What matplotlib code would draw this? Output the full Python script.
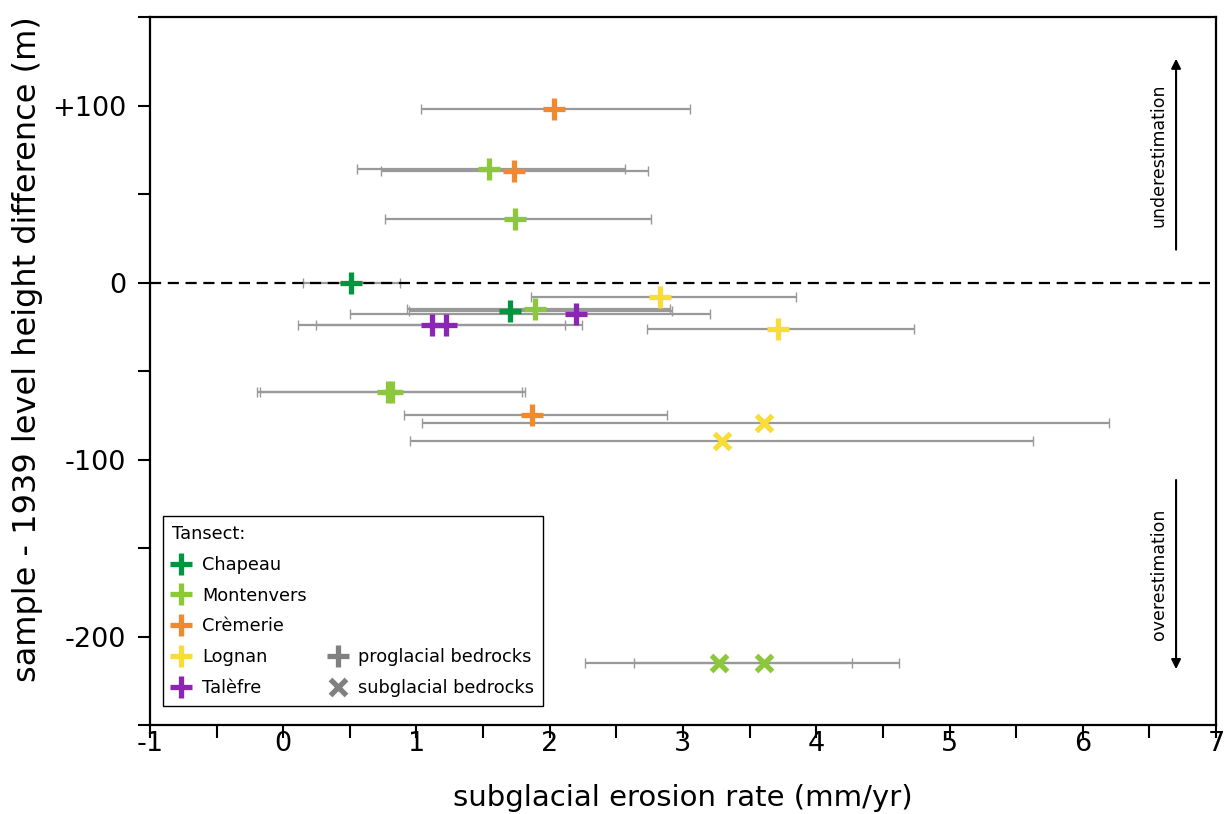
import numpy as np
import matplotlib.pyplot as plt
from matplotlib.lines import Line2D
from matplotlib.ticker import FixedLocator, MultipleLocator

plt.rcParams['font.family'] = ['DejaVu Sans']
plt.rcParams['axes.unicode_minus'] = False

# transect colours
colors = {
    "Chapeau": "#00963f",
    "Montenvers": "#8cc83a",
    "Crèmerie": "#f08a2c",
    "Lognan": "#f7dc3a",
    "Talèfre": "#8a25b5",
}

# one entry per sample
transect = ["Crèmerie", "Montenvers", "Crèmerie", "Montenvers", "Chapeau",
            "Lognan", "Chapeau", "Montenvers", "Talèfre", "Talèfre",
            "Talèfre", "Lognan", "Montenvers", "Montenvers", "Crèmerie",
            "Lognan", "Lognan", "Montenvers", "Montenvers"]
bedrock = ["pro"] * 15 + ["sub"] * 4
erosion = [2.03, 1.545, 1.73, 1.74, 0.51,
           2.83, 1.70, 1.89, 2.20, 1.115,
           1.22, 3.71, 0.79, 0.82, 1.87,
           3.61, 3.29, 3.27, 3.61]
height_diff = [98, 64, 63, 36, 0,
               -8, -16, -15, -18, -24,
               -24, -26.5, -62, -62, -75,
               -79.5, -89.5, -215, -215]
erosion_min = [1.035, 0.555, 0.735, 0.765, 0.145,
               1.86, 0.945, 0.93, 0.50, 0.11,
               0.245, 2.73, -0.20, -0.175, 0.91,
               1.04, 0.95, 2.265, 2.635]
erosion_max = [3.05, 2.565, 2.74, 2.76, 0.88,
               3.85, 2.915, 2.90, 3.20, 2.115,
               2.245, 4.73, 1.79, 1.815, 2.88,
               6.20, 5.63, 4.265, 4.62]

x = np.array(erosion)
y = np.array(height_diff)
xerr = np.array([x - np.array(erosion_min), np.array(erosion_max) - x])

fig = plt.figure(figsize=(12.24, 8.14), dpi=100)
ax = fig.add_axes([0.1225, 0.1093, 0.871, 0.8698])

# error bars
ax.errorbar(x, y, xerr=xerr, fmt='none', ecolor='#999999', elinewidth=1.6,
            capsize=3.5, capthick=1.0, zorder=2)

# zero line
ax.axhline(0, color='black', ls=(0, (5, 3)), lw=1.6, zorder=3)

# markers
for i in range(len(x)):
    if bedrock[i] == "pro":
        ax.plot(x[i], y[i], marker='+', ms=16, mew=3.8, color=colors[transect[i]],
                ls='none', zorder=4)
    else:
        ax.plot(x[i], y[i], marker='x', ms=12, mew=3.8, color=colors[transect[i]],
                ls='none', zorder=4)

# arrows
ax.annotate("", xy=(6.70, 128), xytext=(6.70, 17),
            arrowprops=dict(arrowstyle='-|>', color='black', lw=1.5, mutation_scale=14))
ax.annotate("", xy=(6.70, -220), xytext=(6.70, -110),
            arrowprops=dict(arrowstyle='-|>', color='black', lw=1.5, mutation_scale=14))
ax.text(6.57, 72, "underestimation", rotation=90, ha='center', va='center', fontsize=12.5)
ax.text(6.57, -165, "overestimation", rotation=90, ha='center', va='center', fontsize=12.5)

ax.set_xlim(-1, 7)
ax.set_ylim(-250, 150)

ax.xaxis.set_major_locator(MultipleLocator(1))
ax.xaxis.set_minor_locator(MultipleLocator(0.5))
ax.yaxis.set_major_locator(FixedLocator([-200, -100, 0, 100]))
ax.yaxis.set_minor_locator(MultipleLocator(50))
ax.set_yticklabels(["-200", "-100", "0", "+100"])
ax.tick_params(which='both', direction='out', length=9, width=1.5, labelsize=19.5)
ax.tick_params(which='both', top=False, right=False)
ax.tick_params(axis='y', pad=8)
ax.tick_params(axis='x', pad=-5)
for s in ax.spines.values():
    s.set_linewidth(1.6)

ax.set_xlabel("subglacial erosion rate (mm/yr)", fontsize=21, labelpad=20)
ax.set_ylabel("sample - 1939 level height difference (m)", fontsize=23)
ax.yaxis.set_label_coords(-0.1, 0.531)

# legend
blank = Line2D([], [], ls='none', marker='none')
handles = []
labels = []
for name in ["Chapeau", "Montenvers", "Crèmerie", "Lognan", "Talèfre"]:
    handles.append(Line2D([], [], ls='none', marker='+', ms=16, mew=3.8, color=colors[name]))
    labels.append(name)
handles += [blank, blank, blank,
            Line2D([], [], ls='none', marker='+', ms=16, mew=3.8, color='#808080'),
            Line2D([], [], ls='none', marker='x', ms=11, mew=3.8, color='#808080')]
labels += ["", "", "", "proglacial bedrocks", "subglacial bedrocks"]

leg = ax.legend(handles, labels, ncol=2, title="Tansect:", alignment='left',
                loc='lower left', bbox_to_anchor=(0.012, 0.027), borderaxespad=0,
                fontsize=12.8, title_fontsize=12.8, fancybox=False, edgecolor='black',
                framealpha=1, labelspacing=0.72, handlelength=1.1, handletextpad=0.6,
                columnspacing=1.2, borderpad=0.5)
leg.get_frame().set_linewidth(1.0)

fig.savefig("out.png", dpi=100)
